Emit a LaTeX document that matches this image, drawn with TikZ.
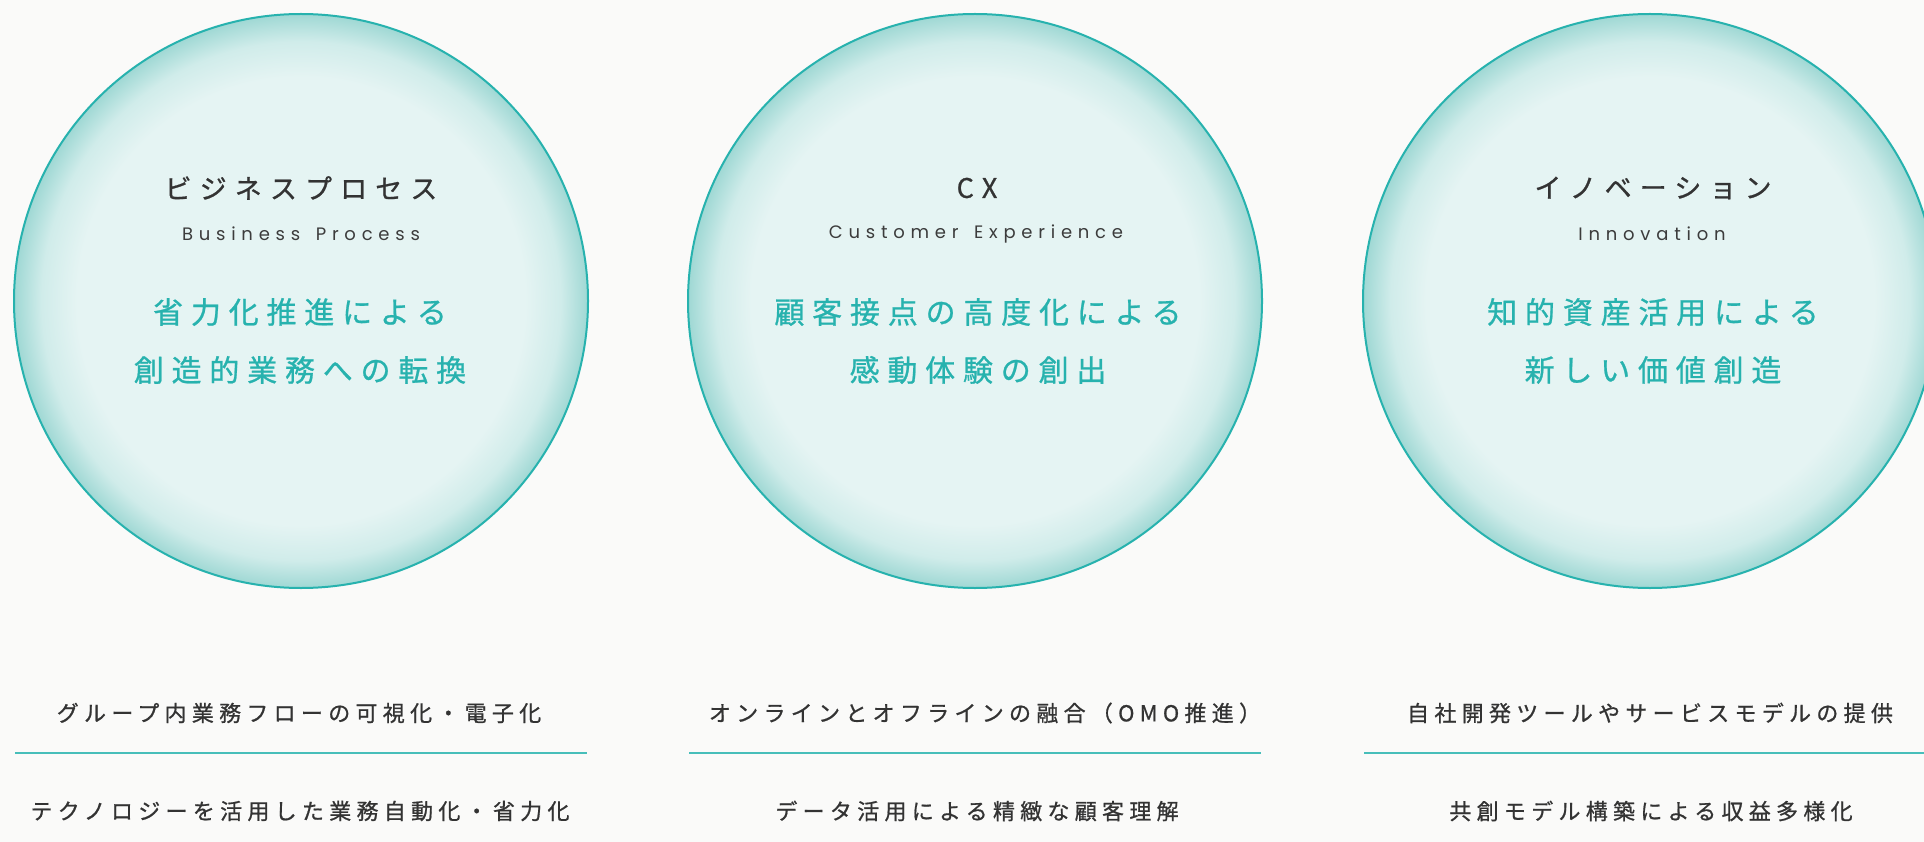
\documentclass[tikz,border=0pt]{standalone}
\usepackage{fontspec}
\newfontfamily\jptitle[LetterSpace=30, FakeBold=0.8]{Noto Sans CJK JP}
\newfontfamily\jpteal[LetterSpace=26, FakeBold=0.8]{Noto Sans CJK JP}
\newfontfamily\jpsmall[LetterSpace=24, FakeBold=0.8]{Noto Sans CJK JP}
\newfontfamily\entitle[LetterSpace=32]{Poppins}
\definecolor{bgc}{HTML}{FAFAF9}
\definecolor{tealc}{HTML}{27B2AE}
\definecolor{inkc}{HTML}{333333}
\definecolor{inkl}{HTML}{3C3C3C}
\definecolor{bin}{HTML}{E5F4F3}
\definecolor{bmid}{HTML}{D0ECEA}
\definecolor{bout}{HTML}{9FD8D4}
\pgfdeclareradialshading{bubble}{\pgfpoint{0bp}{0bp}}{color(0bp)=(bin); color(19.5bp)=(bin); color(22.6bp)=(bmid); color(25bp)=(bout); color(50bp)=(bout)}
\newcommand{\wsp}{\ \hspace{0.28em}}
\tikzset{
  bubblenode/.style={circle, minimum size=574pt, inner sep=0pt, shading=bubble, draw=tealc, line width=2pt},
  jtitle/.style={inner sep=0pt, text=inkc, font=\jptitle\fontsize{27}{31}\selectfont},
  etitle/.style={inner sep=0pt, text=inkl, font=\entitle\fontsize{18}{21}\selectfont},
  tealtext/.style={inner sep=0pt, text=tealc, font=\jpteal\fontsize{30}{35}\selectfont},
  itemtext/.style={inner sep=0pt, text=inkc, font=\jpsmall\fontsize{22}{26}\selectfont},
  sepline/.style={draw=tealc!85, line width=1.6pt}
}
\begin{document}
\begin{tikzpicture}[x=1pt,y=-1pt]
\fill[bgc] (0,0) rectangle (1924,842);
\useasboundingbox (0,0) rectangle (1924,842);
\clip (0,0) rectangle (1924,842);
% column 1
\node[bubblenode] (c1) at (301,301) {};
\node[jtitle] (t1) at (301,188) {ビジネスプロセス};
\node[etitle] (e1) at (301,234) {Business\wsp{}Process};
\node[tealtext] (a1) at (300,312) {省力化推進による};
\node[tealtext] (b1) at (300,370) {創造的業務への転換};
\node[itemtext] (i1) at (299,713) {グループ内業務フローの可視化・電子化};
\node[itemtext] (j1) at (300,811) {テクノロジーを活用した業務自動化・省力化};
\coordinate (l1a) at (15,753);
\coordinate (l1b) at (587,753);
\draw[sepline] (l1a) -- (l1b);
% column 2
\node[bubblenode] (c2) at (975,301) {};
\node[jtitle] (t2) at (977,188) {CX};
\node[etitle] (e2) at (976,234) {Customer\wsp{}Experience};
\node[tealtext] (a2) at (978,312) {顧客接点の高度化による};
\node[tealtext] (b2) at (978,370) {感動体験の創出};
\node[itemtext] (i2) at (985,713) {オンラインとオフラインの融合（OMO推進）};
\node[itemtext] (j2) at (977,811) {データ活用による精緻な顧客理解};
\coordinate (l2a) at (689,753);
\coordinate (l2b) at (1261,753);
\draw[sepline] (l2a) -- (l2b);
% column 3
\node[bubblenode] (c3) at (1650,301) {};
\node[jtitle] (t3) at (1653,188) {イノベーション};
\node[etitle] (e3) at (1652,234) {Innovation};
\node[tealtext] (a3) at (1653,312) {知的資産活用による};
\node[tealtext] (b3) at (1653,370) {新しい価値創造};
\node[itemtext] (i3) at (1650,713) {自社開発ツールやサービスモデルの提供};
\node[itemtext] (j3) at (1651,811) {共創モデル構築による収益多様化};
\coordinate (l3a) at (1364,753);
\coordinate (l3b) at (1936,753);
\draw[sepline] (l3a) -- (l3b);
\end{tikzpicture}
\end{document}
